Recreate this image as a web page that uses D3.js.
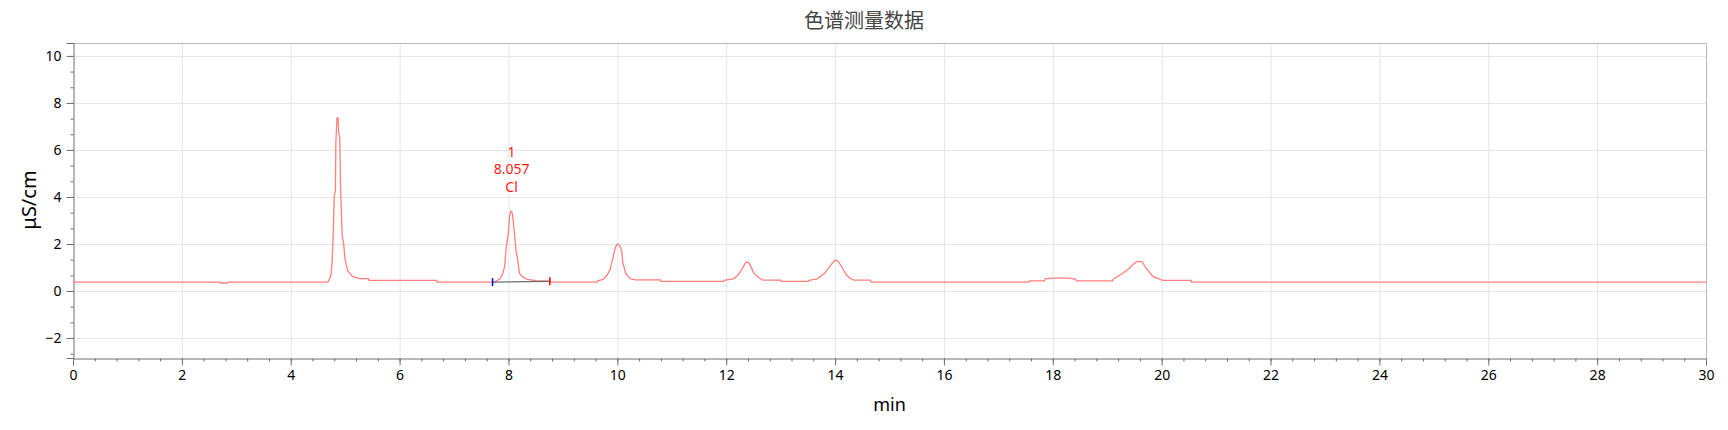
<!DOCTYPE html>
<html><head><meta charset="utf-8">
<script src="https://cdn.jsdelivr.net/npm/d3@7"></script>
<style>html,body{margin:0;padding:0;background:#fff;}svg{display:block;}</style>
</head><body>
<svg id="chart" width="1728" height="430"></svg>
<script>
const titleText = "色谱测量数据";
const xTitle = "min";
const yTitle = "μS/cm";
const xTickValues = [0,2,4,6,8,10,12,14,16,18,20,22,24,26,28,30];
const yTickValues = [-2,0,2,4,6,8,10];
const xDomain = [0, 30];
const yDomain = [-2.85, 10.55];
const times = [0,2.69,2.70,2.84,2.85,4.68,4.70,4.72,4.74,4.76,4.78,4.80,4.82,4.83,4.85,4.87,4.88,4.90,4.915,4.945,4.975,4.995,5.02,5.05,5.085,5.13,5.18,5.27,5.43,5.44,6.68,6.69,
7.76,7.78,7.84,7.89,7.93,7.96,7.99,8.02,8.04,8.06,8.08,8.11,8.14,8.17,8.20,8.26,8.35,8.50,8.76,8.78,
9.63,9.64,9.74,9.81,9.87,9.92,9.96,9.99,10.02,10.05,10.08,10.10,10.15,10.20,10.25,10.34,10.79,10.80,
11.95,11.96,12.13,12.20,12.27,12.36,12.41,12.44,12.51,12.58,12.67,13.0,13.01,
13.51,13.52,13.67,13.81,13.92,13.99,14.03,14.06,14.13,14.20,14.27,14.34,14.65,14.66,
17.56,17.57,17.85,17.86,18.0,18.28,18.42,18.43,19.10,19.11,19.25,19.38,19.47,19.54,19.64,19.71,19.80,19.86,19.96,20.02,20.54,20.55,30];
const signal = [0.38,0.38,0.34,0.34,0.38,0.38,0.45,0.55,0.70,1.20,2.35,4.05,4.25,6.40,7.36,7.36,6.75,6.55,4.45,2.35,1.95,1.40,1.10,0.85,0.75,0.63,0.58,0.53,0.53,0.45,0.45,0.38,
0.38,0.44,0.51,0.70,1.05,1.90,2.32,3.17,3.39,3.39,3.17,2.46,1.68,1.33,0.76,0.60,0.49,0.44,0.42,0.38,
0.38,0.43,0.49,0.67,0.93,1.43,1.83,1.98,1.98,1.90,1.72,1.22,0.78,0.61,0.52,0.47,0.47,0.41,
0.41,0.45,0.52,0.64,0.86,1.22,1.22,1.10,0.75,0.61,0.46,0.46,0.41,
0.41,0.45,0.52,0.75,1.10,1.30,1.30,1.25,1.00,0.71,0.55,0.46,0.46,0.38,
0.38,0.43,0.43,0.52,0.55,0.55,0.51,0.43,0.43,0.50,0.70,0.91,1.13,1.25,1.25,0.99,0.72,0.59,0.51,0.45,0.45,0.38,0.38];
const peakLabels = ["1","8.057","Cl"];
const peakTime = 8.057;
const peakTopValue = 4.22;
const integStart = [7.707, 0.38];
const integEnd = [8.76, 0.41];

const W = 1728, H = 430;
const m = {left:73, right:22, top:43, bottom:72};
const pw = W - m.left - m.right, ph = H - m.top - m.bottom;
const svg = d3.select("#chart");
const x = d3.scaleLinear().domain(xDomain).range([m.left, m.left+pw]);
const y = d3.scaleLinear().domain(yDomain).range([m.top+ph, m.top]);
const font = "'Noto Sans', 'Open Sans', sans-serif";

// grid
svg.append("g").selectAll("line").data(xTickValues.filter(d=>d>0&&d<30)).join("line")
  .attr("x1",d=>x(d)+0.5).attr("x2",d=>x(d)+0.5).attr("y1",m.top).attr("y2",m.top+ph)
  .attr("stroke","#e6e6e6").attr("stroke-width",1);
svg.append("g").selectAll("line").data(yTickValues).join("line")
  .attr("x1",m.left).attr("x2",m.left+pw).attr("y1",d=>Math.round(y(d))+0.5).attr("y2",d=>Math.round(y(d))+0.5)
  .attr("stroke","#e6e6e6").attr("stroke-width",1);
// border top/right
svg.append("path").attr("d",`M${m.left},${m.top+0.5}H${m.left+pw+0.5}V${m.top+ph}`)
  .attr("fill","none").attr("stroke","#bbbbbb").attr("stroke-width",1);

// axes
const minorY = d3.range(-8,17).map(i=>i*2/3).filter(v=>v>=yDomain[0]&&v<=yDomain[1]);
const minorX = d3.range(0,76).map(i=>+(i*0.4).toFixed(2));
const yAxisMinor = d3.axisLeft(y).tickValues(minorY).tickSize(3).tickFormat("");
const yAxis = d3.axisLeft(y).tickValues(yTickValues).tickSize(7).tickPadding(5).tickFormat(d3.format("d"));
const xAxisMinor = d3.axisBottom(x).tickValues(minorX).tickSize(3).tickFormat("");
const xAxis = d3.axisBottom(x).tickValues(xTickValues).tickSize(7).tickPadding(5).tickFormat(d3.format("d"));
function style(g){
  g.selectAll(".domain").attr("stroke","#707070");
  g.selectAll(".tick line").attr("stroke","#707070");
  g.selectAll("text").attr("font-family",font).attr("font-size",14).attr("fill","#000");
}
svg.append("g").attr("transform",`translate(${m.left+0.5},0)`).call(yAxisMinor).call(style).select(".domain").remove();
svg.append("g").attr("transform",`translate(${m.left+0.5},0)`).call(yAxis).call(style);
svg.append("g").attr("transform",`translate(0,${m.top+ph+0.5})`).call(xAxisMinor).call(style).select(".domain").remove();
svg.append("g").attr("transform",`translate(0,${m.top+ph+0.5})`).call(xAxis).call(style);

// signal line
const data = times.map((t,i)=>[t, signal[i]]);
svg.append("path").datum(data)
  .attr("d", d3.line().x(d=>x(d[0])).y(d=>y(d[1])))
  .attr("fill","none").attr("stroke","#ff7f7f").attr("stroke-width",1.3);

// integration baseline + markers
svg.append("line").attr("x1",x(integStart[0])).attr("y1",y(integStart[1])).attr("x2",x(integEnd[0])).attr("y2",y(integEnd[1]))
  .attr("stroke","#707070").attr("stroke-width",1.2);
svg.append("line").attr("x1",x(integStart[0])).attr("x2",x(integStart[0])).attr("y1",y(integStart[1])-4).attr("y2",y(integStart[1])+4)
  .attr("stroke","#0000ff").attr("stroke-width",1.5);
svg.append("line").attr("x1",x(integEnd[0])).attr("x2",x(integEnd[0])).attr("y1",y(integEnd[1])-4).attr("y2",y(integEnd[1])+4)
  .attr("stroke","#ff0000").attr("stroke-width",1.5);

// peak labels
svg.append("g").selectAll("text").data(peakLabels).join("text")
  .attr("x", x(peakTime)).attr("y",(d,i)=>y(peakTopValue) - (peakLabels.length-1-i)*17.5)
  .attr("text-anchor","middle").attr("font-family",font).attr("font-size",14).attr("fill","#ff1a1a").text(d=>d);

// titles
svg.append("text").attr("x",864).attr("y",28).attr("text-anchor","middle")
  .attr("font-family","'Noto Sans CJK SC', sans-serif").attr("font-size",20).attr("fill","#444").text(titleText);
svg.append("text").attr("x",m.left+pw/2).attr("y",411).attr("text-anchor","middle")
  .attr("font-family",font).attr("font-size",18).attr("fill","#000").text(xTitle);
svg.append("text").attr("transform","translate(36,200) rotate(-90)").attr("text-anchor","middle")
  .attr("font-family",font).attr("font-size",20).attr("fill","#000").text(yTitle);
</script>
</body></html>
